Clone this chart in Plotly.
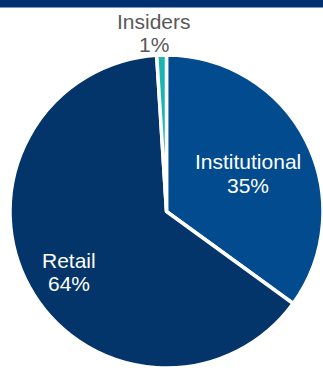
import math
import plotly.graph_objects as go

# Shareholder breakdown (percent of shares held)
holders = ["Institutional", "Retail", "Insiders"]
shares = [35, 64, 1]
slice_colors = ["#014B8E", "#03356A", "#1BB5B0"]

# label placement: radial distance as a fraction of the radius, nudge from the slice bisector (deg)
label_radius = [0.575, 0.730, 1.142]
label_nudge = [1.9, -3.0, -2.37]
label_colors = ["white", "white", "#595959"]

W, H = 323, 368
cx, cy, r = 166.5, 211.5, 156.5
FONT = "Liberation Sans, Arial, sans-serif"
FS = 21
LINE_GAP = 23.4

fig = go.Figure(
    go.Pie(
        labels=holders,
        values=shares,
        sort=False,
        direction="clockwise",
        rotation=0,
        marker=dict(colors=slice_colors, line=dict(color="white", width=3.5)),
        textinfo="none",
        hoverinfo="label+percent",
        showlegend=False,
        domain=dict(
            x=[(cx - r) / W, (cx + r) / W],
            y=[(H - cy - r) / H, (H - cy + r) / H],
        ),
    )
)

# slice labels, placed along each slice's bisector
total = sum(shares)
start = 0.0
for name, val, frac, nudge, col in zip(holders, shares, label_radius, label_nudge, label_colors):
    mid = (start + val / 2) / total * 360 + nudge
    start += val
    theta = math.radians(mid)
    px = cx + frac * r * math.sin(theta)
    py = cy - frac * r * math.cos(theta)
    for txt, shift in ((name, LINE_GAP / 2), (f"{val / total * 100:.0f}%", -LINE_GAP / 2)):
        fig.add_annotation(
            x=px / W, y=1 - py / H, xref="paper", yref="paper",
            text=txt, showarrow=False, xanchor="center", yanchor="middle",
            yshift=shift, font=dict(family=FONT, size=FS, color=col),
        )

# navy banner along the top edge
fig.add_shape(
    type="rect", xref="paper", yref="paper",
    x0=0, x1=1, y0=1 - 7.5 / H, y1=1,
    fillcolor="#00306F", line_width=0, layer="below",
)

fig.update_layout(
    width=W, height=H,
    margin=dict(l=0, r=0, t=0, b=0),
    paper_bgcolor="white",
    plot_bgcolor="white",
    font=dict(family=FONT),
)

fig.write_html("out.html", config={"displayModeBar": False})
